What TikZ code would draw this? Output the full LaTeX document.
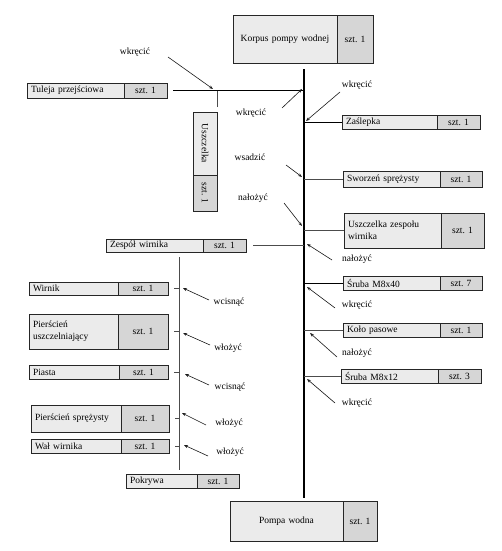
\documentclass[tikz,border=0pt]{standalone}
\usepackage{fontspec}
\setmainfont{Liberation Serif}
\usetikzlibrary{arrows.meta,positioning}
\newcommand{\partfont}{\fontsize{9.5}{12}\selectfont}

\begin{document}
\begin{tikzpicture}[x=1pt,y=-1pt,
    part/.style={draw=gray!30!black, fill=gray!16, line width=0.8pt, outer sep=0pt,
        inner xsep=4pt, inner ysep=1pt, anchor=north west, align=left, font=\partfont},
    count/.style={part, fill=gray!32, align=center},
    spine/.style={line width=1.2pt},
    link/.style={gray!60!black, line width=0.6pt},
    plink/.style={black, line width=0.9pt},
    act/.style={-{Stealth[length=4pt,width=3pt]}, line width=0.6pt, gray!20!black},
    lbl/.style={font=\partfont, inner sep=1pt}]
    \useasboundingbox (0,0) rectangle (501,551);

    % main line
    \coordinate (top) at (304,69);
    \coordinate (bot) at (304,498);
    \draw[spine] (top) -- (bot);

    \node[part, align=center, text width=96pt, minimum height=48pt] (korpus) at (233,15) {Korpus pompy wodnej};
    \node[count, minimum width=36pt, minimum height=48pt] (korpusN) at (korpus.north east) {szt. 1};

    \node[part, align=center, text width=105pt, minimum height=40pt] (pompa) at (230,501) {Pompa wodna};
    \node[count, minimum width=34pt, minimum height=40pt] (pompaN) at (pompa.north east) {szt. 1};

    % left of the main line
    \node[part, text width=89pt, minimum height=15pt] (tuleja) at (27,83) {Tuleja przejściowa};
    \node[count, minimum width=43pt, minimum height=15pt] (tulejaN) at (tuleja.north east) {szt. 1};
    \draw[plink, shorten <=6pt] (tulejaN.east) -- (tulejaN.east -| top);

    \node[part, minimum width=24pt, minimum height=63pt] (uszcz) at (193,112) {\rotatebox{-90}{Uszczelka}};
    \node[count, minimum width=24pt, minimum height=36pt] (uszczN) at (uszcz.south west) {\rotatebox{-90}{szt. 1}};
    \draw[link, shorten <=5pt] (uszcz.north east) -- (uszcz.north east |- tulejaN.east);

    \node[part, text width=89pt, minimum height=13pt] (zespol) at (106,239) {Zespół wirnika};
    \node[count, minimum width=43pt, minimum height=13pt] (zespolN) at (zespol.north east) {szt. 1};
    \draw[link, shorten <=7pt] (zespolN.east) -- (zespolN.east -| top);

    % right of the main line
    \node[part, text width=87pt, minimum height=14pt] (zasl) at (342,115) {Zaślepka};
    \node[count, minimum width=43pt, minimum height=14pt] (zaslN) at (zasl.north east) {szt. 1};
    \draw[plink] (zasl.west) -- (zasl.west -| top);

    \node[part, text width=89pt, minimum height=16pt] (sworzen) at (343,171) {Sworzeń sprężysty};
    \node[count, minimum width=42pt, minimum height=16pt] (sworzenN) at (sworzen.north east) {szt. 1};
    \draw[link] (sworzen.west) -- (sworzen.west -| top);

    \node[part, text width=89pt, minimum height=35pt] (uszzesp) at (344,213) {Uszczelka zespołu\\wirnika};
    \node[count, minimum width=43pt, minimum height=35pt] (uszzespN) at (uszzesp.north east) {szt. 1};
    \draw[link] (uszzesp.west) -- (uszzesp.west -| top);

    \node[part, text width=89pt, minimum height=14pt] (sruba40) at (343,276) {Śruba M8x40};
    \node[count, minimum width=42pt, minimum height=14pt] (sruba40N) at (sruba40.north east) {szt. 7};
    \draw[plink] (sruba40.west) -- (sruba40.west -| top);

    \node[part, text width=89pt, minimum height=14pt] (kolo) at (343,323) {Koło pasowe};
    \node[count, minimum width=42pt, minimum height=14pt] (koloN) at (kolo.north east) {szt. 1};
    \draw[link] (kolo.west) -- (kolo.west -| top);

    \node[part, text width=89pt, minimum height=14pt] (sruba12) at (341,369) {Śruba M8x12};
    \node[count, minimum width=43pt, minimum height=14pt] (sruba12N) at (sruba12.north east) {szt. 3};
    \draw[link] (sruba12.west) -- (sruba12.west -| top);

    % impeller sub-assembly
    \coordinate (subtop) at (179,257);
    \coordinate (subbot) at (179,470);
    \draw[link] (subtop) -- (subbot);

    \node[part, text width=81pt, minimum height=13pt] (wirnik) at (29,282) {Wirnik};
    \node[count, minimum width=50pt, minimum height=13pt] (wirnikN) at (wirnik.north east) {szt. 1};
    \draw[link, shorten <=6pt] (wirnikN.east) -- (wirnikN.east -| subtop);

    \node[part, text width=81pt, minimum height=35pt] (pierusz) at (29,314) {Pierścień\\uszczelniający};
    \node[count, minimum width=50pt, minimum height=35pt] (pieruszN) at (pierusz.north east) {szt. 1};
    \draw[link, shorten <=6pt] (pieruszN.east) -- (pieruszN.east -| subtop);

    \node[part, text width=82pt, minimum height=14pt] (piasta) at (29,365) {Piasta};
    \node[count, minimum width=49pt, minimum height=14pt] (piastaN) at (piasta.north east) {szt. 1};
    \draw[link, shorten <=6pt] (piastaN.east) -- (piastaN.east -| subtop);

    \node[part, text width=82pt, minimum height=27pt] (pierspr) at (31,405) {Pierścień sprężysty};
    \node[count, minimum width=48pt, minimum height=27pt] (piersprN) at (pierspr.north east) {szt. 1};
    \draw[link, shorten <=6pt] (piersprN.east) -- (piersprN.east -| subtop);

    \node[part, text width=82pt, minimum height=14pt] (wal) at (31,439) {Wał wirnika};
    \node[count, minimum width=48pt, minimum height=14pt] (walN) at (wal.north east) {szt. 1};
    \draw[link, shorten <=6pt] (walN.east) -- (walN.east -| subtop);

    \node[part, text width=63pt, minimum height=14pt] (pokrywa) at (126,474) {Pokrywa};
    \node[count, minimum width=42pt, minimum height=14pt] (pokrywaN) at (pokrywa.north east) {szt. 1};

    % operations along the main line
    \coordinate (a1) at (168,57);  \coordinate (b1) at (213,89);
    \coordinate (a2) at (340,92);  \coordinate (b2) at (306,121);
    \coordinate (a3) at (282,108); \coordinate (b3) at (302,89);
    \coordinate (a4) at (286,165); \coordinate (b4) at (302,177);
    \coordinate (a5) at (284,203); \coordinate (b5) at (302,226);
    \coordinate (a6) at (332,260); \coordinate (b6) at (307,244);
    \coordinate (a7) at (335,308); \coordinate (b7) at (307,287);
    \coordinate (a8) at (337,357); \coordinate (b8) at (310,333);
    \coordinate (a9) at (335,403); \coordinate (b9) at (307,379);
    \node[lbl] (op1) at (135,52) {wkręcić};
    \node[lbl] (op2) at (357,85) {wkręcić};
    \node[lbl] (op3) at (251,113) {wkręcić};
    \node[lbl] (op4) at (250,157) {wsadzić};
    \node[lbl] (op5) at (253,198) {nałożyć};
    \node[lbl] (op6) at (357,259) {nałożyć};
    \node[lbl] (op7) at (357,305) {wkręcić};
    \node[lbl] (op8) at (357,353) {nałożyć};
    \node[lbl] (op9) at (357,403) {wkręcić};
    \draw[act] (a1) -- (b1);
    \draw[act] (a2) -- (b2);
    \draw[act] (a3) -- (b3);
    \draw[act] (a4) -- (b4);
    \draw[act] (a5) -- (b5);
    \draw[act] (a6) -- (b6);
    \draw[act] (a7) -- (b7);
    \draw[act] (a8) -- (b8);
    \draw[act] (a9) -- (b9);

    % operations in the sub-assembly
    \coordinate (c1) at (209,300); \coordinate (d1) at (183,288);
    \coordinate (c2) at (210,345); \coordinate (d2) at (183,333);
    \coordinate (c3) at (209,385); \coordinate (d3) at (185,374);
    \coordinate (c4) at (206,425); \coordinate (d4) at (182,413);
    \coordinate (c5) at (208,456); \coordinate (d5) at (184,445);
    \node[lbl] (sub1) at (229,302) {wcisnąć};
    \node[lbl] (sub2) at (228,348) {włożyć};
    \node[lbl] (sub3) at (230,387) {wcisnąć};
    \node[lbl] (sub4) at (229,423) {włożyć};
    \node[lbl] (sub5) at (230,452) {włożyć};
    \draw[act] (c1) -- (d1);
    \draw[act] (c2) -- (d2);
    \draw[act] (c3) -- (d3);
    \draw[act] (c4) -- (d4);
    \draw[act] (c5) -- (d5);
\end{tikzpicture}
\end{document}
